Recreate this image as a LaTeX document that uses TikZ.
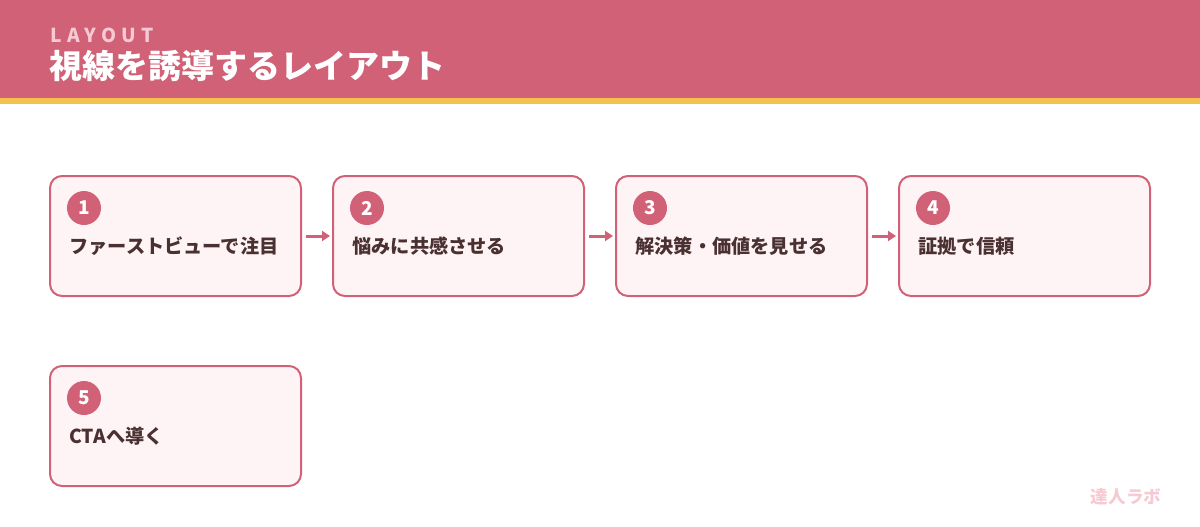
\documentclass[tikz,border=0pt]{standalone}
\usepackage{fontspec}
\setmainfont{Noto Sans CJK JP}
\newfontfamily\layoutfont[LetterSpace=28]{Noto Sans CJK JP}
\usetikzlibrary{calc,arrows.meta}
\definecolor{rosa}{HTML}{D06176}
\definecolor{gelb}{HTML}{F2C14E}
\definecolor{hell}{HTML}{FFF4F5}
\definecolor{blass}{HTML}{F6C9D3}
\definecolor{braun}{HTML}{4A3030}
\tikzset{
  schritt/.style={draw=rosa, line width=1pt, fill=hell, rounded corners=6pt,
    minimum width=125.5pt, minimum height=60pt, inner sep=0pt},
  nummer/.style={circle, fill=rosa, text=white, minimum size=17pt, inner sep=0pt,
    font=\fontsize{9.5}{11}\selectfont\bfseries},
  etikett/.style={anchor=west, inner sep=0pt, text=braun,
    font=\fontsize{9.6}{11}\selectfont\bfseries},
  pfeil/.style={draw=rosa, line width=1.5pt, -{Triangle[length=4pt,width=5pt]},
    shorten <=2pt, shorten >=1pt}
}

\begin{document}
\begin{tikzpicture}[x=0.5pt,y=-0.5pt]
			%%%%% START %%%%%
			\useasboundingbox (0,0) rectangle (1200,526);
			
			\fill[rosa] (0,0) rectangle (1200,98);
			\fill[gelb] (0,98) rectangle (1200,104);
			\node[anchor=base west, inner sep=0pt, text=blass, font=\fontsize{9.6}{11}\layoutfont\bfseries] (layout) at (50,42) {LAYOUT};
			\node[anchor=base west, inner sep=0pt, text=white, font=\fontsize{16.5}{20}\selectfont\bfseries] (titel) at (49,78) {視線を誘導するレイアウト};
			
			\node[schritt] (s1) at (175.5,236) {};
			\node[schritt] (s2) at (458.5,236) {};
			\node[schritt] (s3) at (741.5,236) {};
			\node[schritt] (s4) at (1024.5,236) {};
			\node[schritt] (s5) at (175.5,426) {};
			
			\node[nummer] (n1) at ($(s1)+(-91.5,-28)$) {1};
			\node[nummer] (n2) at ($(s2)+(-91.5,-28)$) {2};
			\node[nummer] (n3) at ($(s3)+(-91.5,-28)$) {3};
			\node[nummer] (n4) at ($(s4)+(-91.5,-28)$) {4};
			\node[nummer] (n5) at ($(s5)+(-91.5,-28)$) {5};
			
			\node[etikett] (t1) at ($(s1)+(-106.5,10)$) {ファーストビューで注目};
			\node[etikett] (t2) at ($(s2)+(-106.5,10)$) {悩みに共感させる};
			\node[etikett] (t3) at ($(s3)+(-106.5,10)$) {解決策・価値を見せる};
			\node[etikett] (t4) at ($(s4)+(-106.5,10)$) {証拠で信頼};
			\node[etikett] (t5) at ($(s5)+(-106.5,10)$) {CTAへ導く};
			
			\draw[pfeil] (s1) -- (s2);
			\draw[pfeil] (s2) -- (s3);
			\draw[pfeil] (s3) -- (s4);
			
			\node[text=blass, inner sep=0pt, font=\fontsize{8.8}{10}\selectfont\bfseries] (marke) at (1126,497) {達人ラボ};
			%%%%% END %%%%%
\end{tikzpicture}
\end{document}
